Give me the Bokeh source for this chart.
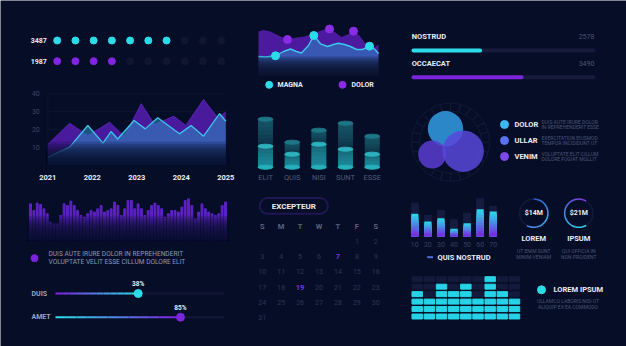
from bokeh.plotting import figure
from bokeh.models import Range1d, BoxAnnotation
from bokeh.core.properties import value
from bokeh.embed import file_html
from bokeh.resources import INLINE

# ------------------------------------------------------------------ data
dot_labels = ["3487", "1987"]
dot_filled = [7, 4]
dot_total = 10

area_years = [2021, 2022, 2023, 2024, 2025]
area_yticks = [10, 20, 30, 40]
purple_x = [2021.0, 2021.49, 2021.9, 2022.39, 2022.72, 2023.1, 2023.4, 2023.83, 2024.1, 2024.5, 2024.82, 2025.0]
purple_y = [11.5, 23.5, 16.5, 24.0, 16.0, 34.4, 22.7, 27.4, 22.2, 36.8, 26.5, 29.7]
blue_x = [2021.0, 2021.49, 2021.9, 2022.24, 2022.42, 2022.57, 2022.94, 2023.19, 2023.47, 2023.96, 2024.22, 2024.5, 2024.86, 2025.0]
blue_y = [4.4, 10.0, 22.2, 12.3, 18.8, 14.6, 25.0, 20.3, 26.5, 17.5, 22.2, 16.2, 28.8, 24.6]

wave_names = ["MAGNA", "DOLOR"]
wave_purple_x = [0, 5, 12, 20, 29, 38, 46, 53, 60, 66, 71, 77, 83, 89, 95, 101, 106, 111, 116, 120]
wave_purple_y = [44, 45.5, 44, 40, 36, 38, 39, 41, 44, 46, 46.5, 43, 38.5, 41, 44.3, 40, 33, 30, 28, 31]
wave_purple_dots = [29, 71, 95]
wave_cyan_x = [0, 7, 17, 25, 32, 38, 43, 50, 55.3, 62, 69, 75, 80, 86, 92, 98, 104, 111, 116, 120]
wave_cyan_y = [19, 18.5, 19.7, 24, 26.5, 24, 22.5, 30, 40, 31.7, 29, 31, 32.3, 31, 29, 26, 26, 29.3, 26.5, 22]
wave_cyan_dots = [17, 55.3, 111]

cyl_labels = ["ELIT", "QUIS", "NISI", "SUNT", "ESSE"]
cyl_outer = [48, 25, 37, 44, 31]
cyl_inner = [21, 13, 23, 18, 13]

prog_labels = ["NOSTRUD", "OCCAECAT"]
prog_values = ["2578", "3490"]
prog_pct = [37, 60]

venn_names = ["DOLOR", "ULLAR", "VENIM"]
venn_desc = [["DUIS AUTE IRURE DOLOR", "IN REPREHENDERIT ESSE"],
             ["EXERCITATION EIUSMOD", "TEMPOR INCIDIDUNT UT"],
             ["VOLUPTATE ELIT CILLUM", "DOLORE FUGIAT MOLLIT"]]
venn_radius = [17.7, 14.0, 20.7]

wf_heights = [36, 29.3, 36.7, 35.3, 31, 26, 17.7, 16, 16, 24.3, 36, 34.3, 38.7, 34.3, 29.3,
              24.3, 22.7, 26, 29.3, 27.7, 31, 34.3, 27.7, 29.3, 31, 37.7, 34.3, 24.3, 31, 39.3,
              39.3, 31, 36, 31, 24.3, 29.3, 34.3, 36.7, 34.3, 31, 22.7, 26, 29.3, 29.3, 27.7,
              32.7, 39.3, 41, 34.3, 21, 27.7, 36, 31, 27.7, 26, 24.3, 26, 34.3, 37.7]
wf_text = ["DUIS AUTE IRURE DOLOR IN REPREHENDERIT", "VOLUPTATE VELIT ESSE CILLUM DOLORE ELIT"]

slider_labels = ["DUIS", "AMET"]
slider_pct = [38, 85]

cal_title = "EXCEPTEUR"
cal_heads = ["S", "M", "T", "W", "T", "F", "S"]
cal_days = 31
cal_first_col = 5
cal_marked = [7, 19]

bc_cats = ["10", "20", "30", "40", "50", "60", "70"]
bc_back = [33, 20.7, 25.7, 16.4, 23, 37.4, 29.7]
bc_front = [22.4, 14.7, 18, 7.4, 13, 27, 24.7]
bc_legend = "QUIS NOSTRUD"

donut_values = ["$14M", "$21M"]
donut_pct = [58, 67]
donut_titles = ["LOREM", "IPSUM"]
donut_desc = [["UT ENIM SUNT", "MINIM VENIAM"], ["QUI OFFICIA IN", "NON PROIDENT"]]

eq_levels = [4, 3, 5, 4, 5, 3, 6, 4, 3]
eq_rows = 6
eq_title = "LOREM IPSUM"
eq_desc = ["ULLAMCO LABORIS NISI UT", "ALIQUIP EX EA COMMODO"]

# ------------------------------------------------------------------ style
W, H = 626, 346
BG = "#060e27"
CYAN = "#2cdbe8"
PURPLE = "#7a24dc"
WHITE = "#e9edf6"
DARKGRAY = "#2c3654"
DESC = "#4a5474"
FONT = value("Roboto")


def hx(c):
    return tuple(int(c[i:i + 2], 16) for i in (1, 3, 5))


def mix(c1, c2, t):
    a, b = hx(c1), hx(c2)
    return "#%02x%02x%02x" % tuple(round(a[i] + (b[i] - a[i]) * t) for i in range(3))


xr, yr = {}, {}


def sx(name, d0, d1, p0, p1):
    k = (d1 - d0) / (p1 - p0)
    xr[name] = Range1d(d0 - p0 * k, d0 + (W - p0) * k)


def sy(name, v0, v1, q0, q1):
    k = (v1 - v0) / (q1 - q0)
    yr[name] = Range1d(v0 + (H - q0) * k, v0 - q0 * k)


def inv_x(name, px):
    r = xr[name]
    return r.start + (r.end - r.start) * px / W


sx("dot_x", 0, 9, 56.7, 220.7); sy("dot_y", 0, 1, 40, 60.7)
sx("a_x", 2021, 2025, 47.3, 225.3); sy("a_y", 0, 40, 164.5, 93.3)
sx("w_x", 0, 120, 258, 378); sy("w_y", 0, 50, 75, 25)
sx("c_x", 0, 4, 265, 371.7); sy("c_y", 0, 10, 166.7, 156.7)
sx("pb_x", 0, 100, 413, 593); sy("pb_y", 0, 1, 50, 76.7)
sx("wf_x", 0, 58, 30, 225); sy("wf_y", 0, 10, 239.3, 229.3)
sx("sl_x", 38, 85, 137.7, 180.0); sy("sl_y", 0, 1, 293, 316.7)
sx("cal_x", 0, 6, 261.7, 375.3); sy("cal_y", 0, 6, 225.7, 317)
sx("bc_x", 0, 6, 414.3, 492.7); sy("bc_y", 0, 10, 235.7, 225.7)
sx("eq_x", 0, 8, 416.7, 514); sy("eq_y", 0, 5, 316, 278.7)

p = figure(width=W, height=H, x_range=Range1d(0, W), y_range=Range1d(H, 0),
           extra_x_ranges=xr, extra_y_ranges=yr,
           output_backend="svg", toolbar_location=None, min_border=0,
           x_axis_location=None, y_axis_location=None,
           background_fill_color=BG, border_fill_color=BG, outline_line_color=None)
p.grid.visible = False


def txt(x, y, t, size, color, bold=False, align="left", xn="default", yn="default"):
    p.text(x=x, y=y, text=t, text_font=FONT, text_font_size=f"{size}px",
           text_font_style="bold" if bold else "normal", text_color=color,
           text_align=align, text_baseline="middle", x_range_name=xn, y_range_name=yn)


def fade(left, right, bottom, top, rng, n=10, a=0.22):
    # overlapping translucent bands, densest at the bottom
    for i in range(n):
        p.quad(left=[left], right=[right], bottom=[bottom],
               top=[bottom + (top - bottom) * (i + 1) / n],
               fill_color=BG, fill_alpha=a, line_alpha=0, **rng)


# ---------------- dot rows
dot_colors = [CYAN, "#8324e0"]
for r, (lab, n) in enumerate(zip(dot_labels, dot_filled)):
    cols = list(range(dot_total))
    p.scatter(cols[n:], [r] * (dot_total - n), size=7, color="#10162f",
              x_range_name="dot_x", y_range_name="dot_y")
    p.scatter(cols[:n], [r] * n, size=7, color=dot_colors[r],
              x_range_name="dot_x", y_range_name="dot_y")
    txt([-0.57], [r], [lab], 7, WHITE, True, "right", "dot_x", "dot_y")

# ---------------- area chart
A = dict(x_range_name="a_x", y_range_name="a_y")
for t in area_yticks:
    p.segment(x0=[2021], x1=[2025], y0=[t], y1=[t], line_color="#0f1735", line_width=0.8, **A)
p.segment(x0=[2021], x1=[2021], y0=[0], y1=[40], line_color="#0f1735", line_width=0.8, **A)
txt([2020.82] * 4, area_yticks, [str(t) for t in area_yticks], 7, "#3b4563", False, "right", "a_x", "a_y")
txt(area_years, [-6.9] * 5, [str(y) for y in area_years], 7.5, WHITE, True, "center", "a_x", "a_y")
p.varea(x=purple_x, y1=[0] * len(purple_x), y2=purple_y, fill_color="#4a1a9c", **A)
p.line(purple_x, purple_y, line_color="#5b22b8", line_width=1, **A)
p.varea(x=blue_x, y1=[0] * len(blue_x), y2=blue_y, fill_color="#2a90c2", fill_alpha=0.55, **A)
p.line(blue_x, blue_y, line_color="#3cc6ec", line_width=1.3, **A)
fade(2020.98, 2025.05, -0.6, 13, A)

# ---------------- wave chart
Wv = dict(x_range_name="w_x", y_range_name="w_y")
p.varea(x=wave_purple_x, y1=[0] * len(wave_purple_x), y2=wave_purple_y, fill_color="#4c1a9e", **Wv)
p.varea(x=wave_cyan_x, y1=[0] * len(wave_cyan_x), y2=wave_cyan_y, fill_color="#2a8cc4", fill_alpha=0.55, **Wv)
p.line(wave_cyan_x, wave_cyan_y, line_color="#3cc8ec", line_width=1.4, **Wv)
fade(-0.5, 120.5, -1, 19, Wv, a=0.25)


def interp(xs, ys, x):
    for i in range(len(xs) - 1):
        if xs[i] <= x <= xs[i + 1]:
            t = (x - xs[i]) / (xs[i + 1] - xs[i])
            return ys[i] + (ys[i + 1] - ys[i]) * t
    return ys[-1]


p.scatter(wave_purple_dots, [interp(wave_purple_x, wave_purple_y, d) for d in wave_purple_dots],
          size=8, color="#8a2ce6", **Wv)
p.scatter(wave_cyan_dots, [interp(wave_cyan_x, wave_cyan_y, d) for d in wave_cyan_dots],
          size=8, color=CYAN, **Wv)
p.scatter([268.7, 342], [84.3, 84.3], size=7, color=[CYAN, "#8a2ce6"])
txt([277, 351], [84.3, 84.3], wave_names, 7, WHITE, True)

# ---------------- cylinders
C = dict(x_range_name="c_x", y_range_name="c_y")
cx = list(range(len(cyl_labels)))
cw = 0.56
p.vbar(x=cx, bottom=cyl_inner, top=cyl_outer, width=cw, color="#0d3044", line_alpha=0, **C)
N = 6
for k in range(N):
    # upper body gets lighter toward the top cap
    p.vbar(x=cx, bottom=[i + (o - i) * (k + 1) / (N + 1) for i, o in zip(cyl_inner, cyl_outer)],
           top=cyl_outer, width=cw, color="#1a6274", fill_alpha=0.18, line_alpha=0, **C)
p.vbar(x=cx, bottom=0, top=cyl_inner, width=cw, color="#145a6a", line_alpha=0, **C)
for k in range(N):
    # lower body gets lighter toward the base
    p.vbar(x=cx, bottom=0, top=[i * (N - k) / N for i in cyl_inner], width=cw,
           color="#23a3b0", fill_alpha=0.17, line_alpha=0, **C)
p.ellipse(x=cx, y=cyl_outer, width=cw, height=4, color="#1d7686", **C)
p.ellipse(x=cx, y=cyl_inner, width=cw, height=4, color="#2cb2be", **C)
p.ellipse(x=cx, y=[0] * 5, width=cw, height=4, color="#27b0bc", **C)
txt(cx, [-10] * 5, cyl_labels, 7.5, "#4f5a78", False, "center", "c_x", "c_y")

# ---------------- progress bars
PB = dict(x_range_name="pb_x", y_range_name="pb_y")
prog_colors = [CYAN, PURPLE]
for r in range(2):
    p.segment(x0=[0], x1=[100], y0=[r], y1=[r], line_color="#171a3d", line_width=4, line_cap="round", **PB)
    p.segment(x0=[0], x1=[prog_pct[r]], y0=[r], y1=[r], line_color=prog_colors[r], line_width=4, line_cap="round", **PB)
    txt([-1], [r - 0.52], [prog_labels[r]], 7.5, WHITE, True, "left", "pb_x", "pb_y")
    txt([100.5], [r - 0.52], [prog_values[r]], 7, "#4a5472", False, "right", "pb_x", "pb_y")

# ---------------- venn
p.annular_wedge(x=[450] * 24, y=[141.7] * 24, inner_radius=31, outer_radius=39,
                start_angle=[i * 15 for i in range(24)], end_angle=[(i + 1) * 15 for i in range(24)],
                start_angle_units="deg", end_angle_units="deg",
                fill_alpha=0, line_color="#121a38", line_width=0.8)
venn_cx = [445, 431.7, 462.7]
venn_cy = [128.3, 154, 150.7]
venn_fill = ["#2e8ed2", "#5a3cd2", "#5848da"]
venn_alpha = [0.95, 0.85, 0.85]
for i in range(3):
    p.circle(x=[venn_cx[i]], y=[venn_cy[i]], radius=venn_radius[i], fill_color=venn_fill[i],
             fill_alpha=venn_alpha[i], line_alpha=0)
leg_y = [124, 140, 156]
p.scatter([504] * 3, leg_y, size=8, color=["#3cb6f4", "#5a72f0", "#7c4ae8"])
txt([514] * 3, leg_y, venn_names, 7.5, WHITE, True)
txt([541] * 3, [y - 2.9 for y in leg_y], [d[0] for d in venn_desc], 5, DESC)
txt([541] * 3, [y + 2.9 for y in leg_y], [d[1] for d in venn_desc], 5, DESC)

# ---------------- waveform
WF = dict(x_range_name="wf_x", y_range_name="wf_y")
p.vbar(x=list(range(len(wf_heights))), bottom=0, top=wf_heights, width=0.55, color="#5e22c4", **WF)
fade(-1, 59, -0.5, 24, WF, a=0.22)
p.scatter([34], [257.7], size=7, color=PURPLE)
txt([48, 48], [253.5, 261.5], wf_text, 6.6, "#8e97b2")

# ---------------- sliders
SL = dict(x_range_name="sl_x", y_range_name="sl_y")
t0, t1 = inv_x("sl_x", 55), inv_x("sl_x", 224)
sl_cols = [(PURPLE, CYAN), (CYAN, PURPLE)]
for r in range(2):
    p.segment(x0=[t0], x1=[t1], y0=[r], y1=[r], line_color="#131737", line_width=2, **SL)
    n = 12
    v = slider_pct[r]
    xs0 = [t0 + (v - t0) * k / n for k in range(n)]
    xs1 = [t0 + (v - t0) * (k + 1) / n for k in range(n)]
    p.segment(x0=xs0, x1=xs1, y0=[r] * n, y1=[r] * n, line_width=2,
              line_color=[mix(sl_cols[r][0], sl_cols[r][1], k / (n - 1)) for k in range(n)], **SL)
    p.scatter([v], [r], size=8, color=sl_cols[r][1], **SL)
    txt([v], [r - 0.39], [f"{v}%"], 6.5, WHITE, True, "center", "sl_x", "sl_y")
    txt([inv_x("sl_x", 31)], [r], [slider_labels[r]], 7, "#9aa3bd", True, "left", "sl_x", "sl_y")

# ---------------- calendar
CA = dict(x_range_name="cal_x", y_range_name="cal_y")
p.add_layout(BoxAnnotation(left=259.3, right=327.3, top=197.6, bottom=213.3, border_radius=8,
                           fill_alpha=0, line_color="#5d2cb8", line_width=2))
txt([293.3], [205.5], [cal_title], 8, WHITE, True, "center")
txt(list(range(7)), [0] * 7, cal_heads, 7.5, "#59637f", True, "center", "cal_x", "cal_y")
dx, dy, dt = [], [], []
for d in range(1, cal_days + 1):
    if d in cal_marked:
        continue
    idx = d - 1 + cal_first_col
    dx.append(idx % 7)
    dy.append(1 + idx // 7)
    dt.append(str(d))
txt(dx, dy, dt, 7, DARKGRAY, False, "center", "cal_x", "cal_y")
mx = [(d - 1 + cal_first_col) % 7 for d in cal_marked]
my = [1 + (d - 1 + cal_first_col) // 7 for d in cal_marked]
txt(mx, my, [str(d) for d in cal_marked], 7.5, "#7b30e2", True, "center", "cal_x", "cal_y")

# ---------------- bar chart
BC = dict(x_range_name="bc_x", y_range_name="bc_y")
bx = list(range(len(bc_cats)))
p.vbar(x=bx, bottom=0, top=bc_back, width=0.54, color="#161b40", **BC)
n = 10
for k in range(n, 0, -1):
    p.vbar(x=bx, bottom=0, top=[v * k / n for v in bc_front],
           width=0.54, color=mix("#7a2ae0", "#2ad6ea", (k - 1) / (n - 1)), line_alpha=0, **BC)
txt(bx, [-8.6] * 7, bc_cats, 7, "#36405e", False, "center", "bc_x", "bc_y")
p.segment(x0=[426.7], x1=[432.5], y0=[256.7], y1=[256.7], line_color="#4f6ee0", line_width=2)
txt([437], [256.7], [bc_legend], 7.5, WHITE, True)

# ---------------- donuts
dcx = [533.3, 578.3]
dcy = 212.7
arc_cols = [["#2f56c8", "#38b4ee", "#4a86ea"], ["#8a34e6", "#3a8ee8", "#30d2ea"]]
for i in range(2):
    p.annular_wedge(x=[dcx[i]], y=[dcy], inner_radius=13.4, outer_radius=14.9, start_angle=0,
                    end_angle=360, start_angle_units="deg", end_angle_units="deg",
                    color="#141a3a", line_alpha=0)
    span = donut_pct[i] * 3.6
    n = 16
    for k in range(n):
        if i == 0:  # clockwise from 12 o'clock
            a1 = 90 - span * k / n
            a0 = 90 - span * (k + 1) / n
        else:  # counter-clockwise from 1 o'clock
            a0 = 60 + span * k / n
            a1 = 60 + span * (k + 1) / n
        t = k / (n - 1)
        c = mix(arc_cols[i][0], arc_cols[i][1], t * 2) if t < 0.5 else mix(arc_cols[i][1], arc_cols[i][2], (t - 0.5) * 2)
        p.annular_wedge(x=[dcx[i]], y=[dcy], inner_radius=13.4, outer_radius=14.9,
                        start_angle=a0 - 0.3, end_angle=a1 + 0.3,
                        start_angle_units="deg", end_angle_units="deg", color=c, line_alpha=0)
txt(dcx, [dcy] * 2, donut_values, 7, WHITE, True, "center")
txt(dcx, [237.7] * 2, donut_titles, 7.5, WHITE, True, "center")
txt(dcx, [250.3] * 2, [d[0] for d in donut_desc], 5, DESC, False, "center")
txt(dcx, [256.0] * 2, [d[1] for d in donut_desc], 5, DESC, False, "center")

# ---------------- equalizer
EQ = dict(x_range_name="eq_x", y_range_name="eq_y")
ex, ey, ec = [], [], []
for c, lvl in enumerate(eq_levels):
    for r in range(eq_rows):
        ex.append(c)
        ey.append(r)
        ec.append("#27d3e6" if r < lvl else "#131a3c")
p.rect(x=ex, y=ey, width=0.86, height=0.67, color=ec, **EQ)
p.scatter([541], [289.3], size=8, color=CYAN)
txt([553], [289.3], [eq_title], 7.5, WHITE, True)
txt([567.5, 567.5], [300.7, 306.3], eq_desc, 5, DESC, False, "center")

open("out.html", "w").write(file_html(p, INLINE))
